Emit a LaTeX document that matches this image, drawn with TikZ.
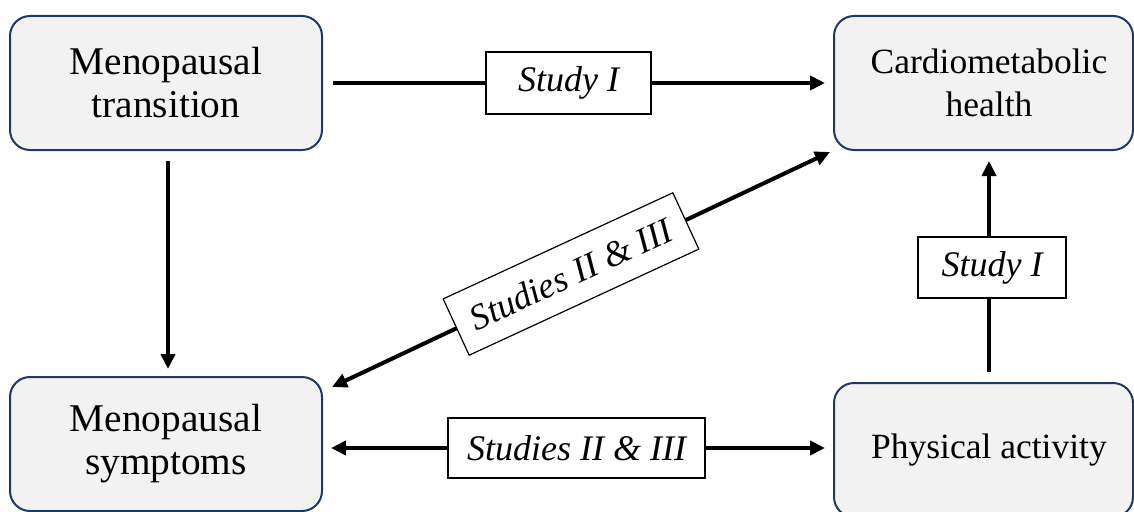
\documentclass[tikz,border=0pt]{standalone}
\usepackage{fontspec}
\setmainfont{Liberation Serif}
\usetikzlibrary{arrows.meta}
\definecolor{boxfill}{HTML}{F2F2F2}
\definecolor{boxline}{HTML}{1F3864}
\tikzset{
  mainbox/.style={draw=boxline, line width=2pt, fill=boxfill, rounded corners=20pt,
    align=center, inner sep=0pt},
  lfont/.style={font=\fontsize{39.3}{43}\selectfont},
  rfont/.style={font=\fontsize{35.5}{43}\selectfont},
  lbl/.style={draw=black, line width=1.2pt, fill=white, inner sep=0pt,
    font=\fontsize{36}{40}\selectfont\itshape},
  arr/.style={line width=4pt, -{Triangle[length=15pt,width=14pt]}},
  darr/.style={line width=4pt, {Triangle[length=15pt,width=14pt]}-{Triangle[length=15pt,width=14pt]}}
}
\begin{document}
\begin{tikzpicture}[x=1pt,y=-1pt]
\useasboundingbox (0,0) rectangle (1134,511);
\clip (0,0) rectangle (1134,511);
\node[mainbox, lfont, minimum width=312pt, minimum height=134pt] (trans) at (166,83) {Menopausal\\transition};
\node[mainbox, rfont, minimum width=299pt, minimum height=134pt] (cardio) at (983.5,83) {\hspace*{11pt}Cardiometabolic\\\hspace*{11pt}health};
\node[mainbox, lfont, minimum width=312pt, minimum height=134pt] (symp) at (166,444) {Menopausal\\symptoms};
\node[mainbox, rfont, minimum width=299pt, minimum height=134pt] (phys) at (983.5,450) {\hspace*{11pt}Physical activity};

% top arrow
\draw[arr, shorten <=10pt, shorten >=8pt] (trans.east) -- (cardio.west);
\node[lbl, minimum width=165pt, minimum height=62pt] (l1) at (568.5,83) {Study I};

% left vertical
\draw[arr, shorten <=10pt, shorten >=7pt] ([xshift=2pt]trans.south) -- ([xshift=2pt]symp.north);

% diagonal
\coordinate (d1) at (332,387);
\coordinate (d2) at (830,152);
\draw[darr] (d1) -- (d2);
\node[lbl, minimum width=253pt, minimum height=62pt, rotate=24.8] (l2) at (571,274) {Studies II \& III};

% right vertical
\draw[arr, shorten <=10pt, shorten >=10pt] ([xshift=5.5pt]phys.north) -- ([xshift=5.5pt]cardio.south);
\node[lbl, minimum width=148pt, minimum height=61pt] (l3) at (992,267.5) {Study I};

% bottom double arrow
\draw[darr, shorten <=8pt, shorten >=8pt] (symp.east |- 0,448) -- (phys.west |- 0,448);
\node[lbl, minimum width=257pt, minimum height=60pt] (l4) at (576.5,448) {Studies II \& III};
\end{tikzpicture}
\end{document}
